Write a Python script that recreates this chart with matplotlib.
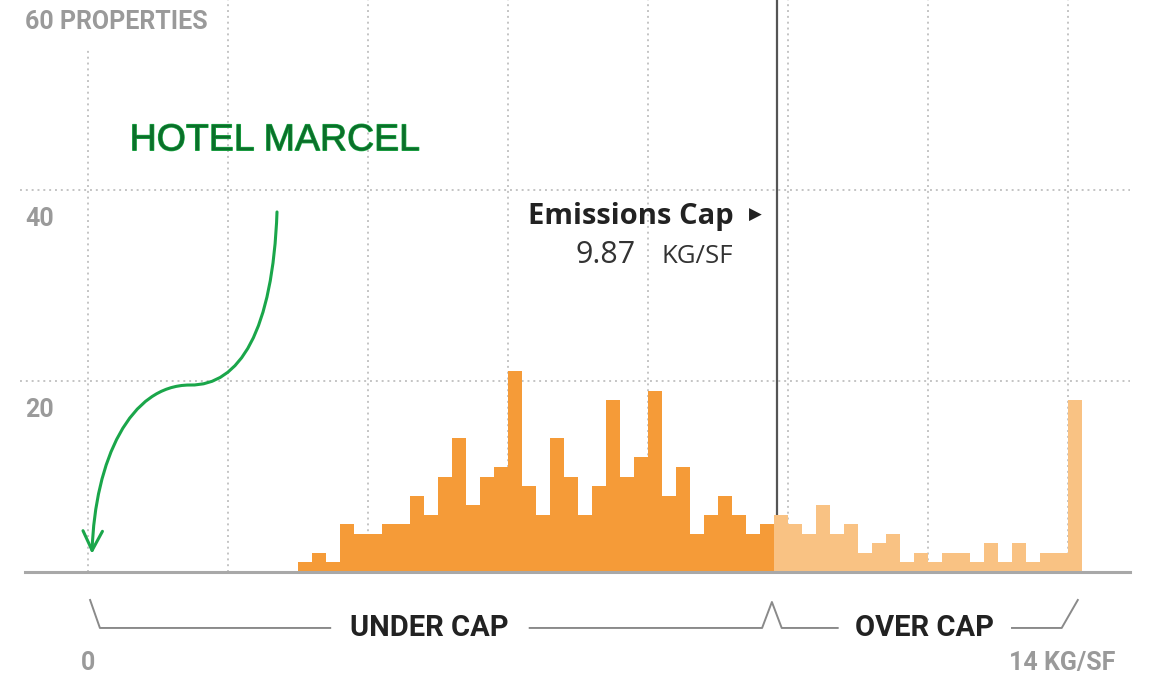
import numpy as np
import matplotlib; matplotlib.use('Agg')
import matplotlib.pyplot as plt
import matplotlib.patheffects as pe
from matplotlib.path import Path
from matplotlib.patches import FancyArrowPatch

# histogram: 0.2 kg/sf bins starting at 3.0, last bin = 14+
bin_start = 3.0
bin_width = 0.2
counts = [1, 2, 1, 5, 4, 4, 5, 5, 8, 6, 10, 14, 7, 10, 11, 21, 9, 6,
          14, 10, 6, 9, 18, 10, 12, 19, 8, 11, 4, 6, 8, 6, 4, 5,
          6, 5, 4, 7, 4, 5, 2, 3, 4, 1, 2, 1, 2, 2, 1, 3, 1, 3, 1, 2, 2, 18]
n_under = 34                       # bins drawn in the darker "under cap" colour
cap = 9.87
y_ticks = [20, 40]
x_grid = [0, 2, 4, 6, 8, 10, 12, 14]

DARK = '#f59b38'; LIGHT = '#f9c283'; GRID = '#c4c4c4'; TICK = '#9a9a9a'; GREEN = '#1aa64a'
CONDENSED = ['Liberation Sans Narrow', 'Roboto', 'DejaVu Sans']
BOLD = ['Open Sans', 'DejaVu Sans']

fig = plt.figure(figsize=(11.5, 6.76), dpi=100)
ax = fig.add_axes([0, 0, 1, 1])
ax.set_xlim(-88 / 70, (1150 - 88) / 70)
ax.set_ylim(-(676 - 572) / 9.55, 572 / 9.55)
ax.axis('off')

# grid
for g in x_grid:
    top = 54.7 if g == 0 else 60
    ax.plot([g, g], [0, top], color=GRID, lw=1.4, ls=(0, (1, 2)), zorder=1)
for t in y_ticks:
    ax.plot([-0.97, 14.89], [t, t], color=GRID, lw=1.4, ls=(0, (1, 2)), zorder=1)
    ax.text(-0.9, t - 3.0, str(t), color=TICK, fontsize=18, fontweight='bold',
            family=CONDENSED, ha='left', va='center')
ax.text(-0.9, 57.6, '60 PROPERTIES', color=TICK, fontsize=18, fontweight='bold',
        family=CONDENSED, ha='left', va='center')

# cap line
ax.plot([cap - 0.03, cap - 0.03], [0, 60], color='#555555', lw=1.6, zorder=2)

# bars
edges = bin_start + bin_width * np.arange(len(counts))
colors = [DARK if i < n_under else LIGHT for i in range(len(counts))]
ax.bar(edges, counts, width=bin_width, align='edge', color=colors, lw=0, zorder=3)

# baseline
ax.plot([-0.9, 14.89], [0, 0], color='#a8a8a8', lw=2.2, zorder=4)

# cap annotation
ax.text(9.22, 37.2, 'Emissions Cap', family=BOLD, fontweight='bold', fontsize=21,
        color='#222222', ha='right', va='center')
ax.text(9.63, 37.4, '\u25b6', family='DejaVu Sans', fontsize=12, color='#222222',
        ha='right', va='center')
ax.text(7.83, 33.2, '9.87', family=BOLD, fontsize=22, color='#333333', ha='right', va='center')
ax.text(9.21, 33.0, 'KG/SF', family=BOLD, fontsize=18.5, color='#333333', ha='right', va='center')

# under / over brackets
bc = '#8a8a8a'
yb, yt = -5.86, -2.93
ax.plot([0.03, 0.17, 3.46], [yt, yb, yb], color=bc, lw=1.4)
ax.plot([6.31, 9.63, 9.77, 9.91, 10.71], [yb, yb, -3.14, yb, yb], color=bc, lw=1.4)
ax.plot([13.2, 13.91, 14.14], [yb, yb, yt], color=bc, lw=1.4)
ax.text(4.88, yb, 'UNDER CAP', family=CONDENSED, fontweight='bold', fontsize=21,
        color='#222222', ha='center', va='center')
ax.text(11.95, yb, 'OVER CAP', family=CONDENSED, fontweight='bold', fontsize=21,
        color='#222222', ha='center', va='center')
ax.text(0.0, -9.5, '0', family=CONDENSED, fontweight='bold', fontsize=18, color=TICK,
        ha='center', va='center')
ax.text(14.67, -9.5, '14 KG/SF', family=CONDENSED, fontweight='bold', fontsize=18,
        color=TICK, ha='right', va='center')

# Hotel Marcel callout
ax.text(2.67, 45.2, 'HOTEL MARCEL', family='Liberation Sans', fontsize=27,
        color='#0b6f2a', ha='center', va='center',
        path_effects=[pe.withStroke(linewidth=0.9, foreground='#22b24c')])
verts = [(2.70, 37.7), (2.64, 25.3), (2.17, 19.5), (1.457, 19.58),
         (0.6, 19.58), (0.1, 11.73), (0.057, 1.9)]
codes = [Path.MOVETO] + [Path.CURVE4] * 6
arrow = FancyArrowPatch(path=Path(verts, codes), arrowstyle='->,head_length=0.7,head_width=0.35',
                        mutation_scale=20, color=GREEN, lw=2.2)
ax.add_patch(arrow)

fig.savefig('out.png', dpi=100, facecolor='white')
